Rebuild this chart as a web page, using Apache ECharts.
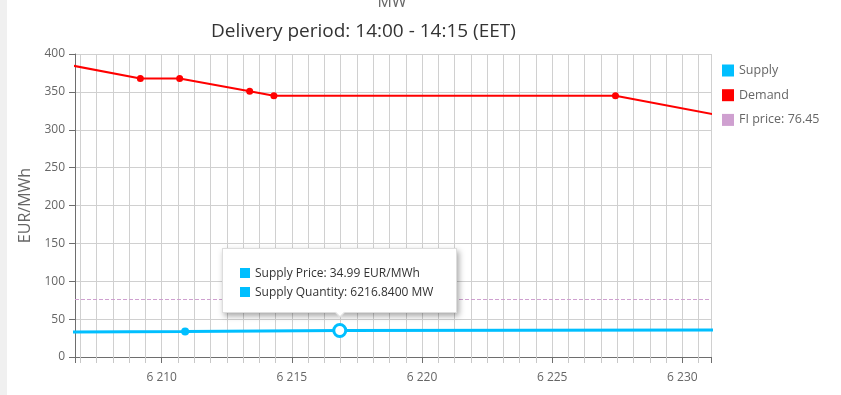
<!DOCTYPE html>
<html>
<head>
<meta charset="utf-8">
<script src="https://cdn.jsdelivr.net/npm/echarts@6/dist/echarts.min.js"></script>
<style>
  html, body { margin: 0; padding: 0; background: #f0f0f0; width: 841px; height: 395px; overflow: hidden; }
  #chart { position: absolute; left: 7px; top: 0; width: 834px; height: 395px; background: #fff; }
</style>
</head>
<body>
<div id="chart"></div>
<script>
// ---- data ----
var titleText = 'Delivery period: 14:00 - 14:15 (EET)';
var xAxisName = 'MW';
var yAxisName = 'EUR/MWh';
var seriesNames = ['Supply', 'Demand', 'FI price: 76.45'];
var fiPrice = 76.45;

var supplyQty   = [6205.0, 6210.9, 6216.84, 6233.0];
var supplyPrice = [32.8,   33.7,   34.99,   35.9];
var hoverIndex = 2; // point shown with tooltip

var demandQty   = [6205.0, 6209.18, 6210.69, 6213.38, 6214.31, 6227.43, 6233.0];
var demandPrice = [395.0,  367.6,   367.6,   350.9,   344.8,   344.8,   308.6];

var xMin = 6206.67, xMax = 6231.1;
var yMin = 0, yMax = 400, yInterval = 50;

// ---- chart ----
var SUPPLY = '#00bfff', DEMAND = '#ff0000', FI = '#cfa0d0';
var FONT = '"Open Sans", "Noto Sans", sans-serif';

function fmtThousands(v) {
  var s = String(Math.round(v));
  return s.replace(/\B(?=(\d{3})+(?!\d))/g, ' ');
}

var supplyData = supplyQty.map(function (q, i) {
  var item = { value: [q, supplyPrice[i]] };
  if (i === hoverIndex) {
    item.symbolSize = 12;
    item.itemStyle = { color: '#fff', borderColor: SUPPLY, borderWidth: 3 };
  }
  return item;
});
var demandData = demandQty.map(function (q, i) { return [q, demandPrice[i]]; });

var chart = echarts.init(document.getElementById('chart'), null, { renderer: 'canvas' });

var option = {
  animation: false,
  backgroundColor: '#fff',
  textStyle: { fontFamily: FONT },
  title: {
    text: titleText,
    left: 199,
    top: 17,
    textStyle: { fontSize: 19, fontWeight: 'normal', color: '#333', fontFamily: FONT }
  },
  graphic: [{
    type: 'text',
    x: 385,
    y: 10,
    silent: true,
    style: { text: xAxisName, fontSize: 16, fill: '#666', fontFamily: FONT, align: 'center', verticalAlign: 'bottom' }
  }],
  legend: {
    orient: 'vertical',
    left: 710,
    top: 59,
    icon: 'rect',
    itemWidth: 12,
    itemHeight: 12,
    itemGap: 11.7,
    textStyle: { color: '#666', fontSize: 12.5, fontFamily: FONT },
    data: seriesNames
  },
  grid: { left: 68, right: 130, top: 54, bottom: 38, containLabel: false },
  tooltip: {
    trigger: 'item',
    triggerOn: 'none',
    alwaysShowContent: true,
    position: 'top',
    transitionDuration: 0,
    backgroundColor: '#fff',
    borderColor: '#ddd',
    borderWidth: 1,
    padding: [14, 23, 11, 17],
    textStyle: { color: '#333', fontSize: 12, fontFamily: FONT },
    extraCssText: 'box-shadow: 2px 3px 6px rgba(0,0,0,0.35); border-radius: 0;',
    formatter: function (p) {
      var mk = '<span style="display:inline-block;width:10px;height:10px;background:' + SUPPLY + ';margin-right:5px;vertical-align:-1px"></span>';
      return '<div style="line-height:19px">' +
        mk + 'Supply Price: ' + p.value[1].toFixed(2) + ' EUR/MWh<br>' +
        mk + 'Supply Quantity: ' + p.value[0].toFixed(4) + ' MW</div>';
    }
  },
  xAxis: {
    type: 'value',
    min: xMin,
    max: xMax,
    splitNumber: 5,
    axisLine: { onZero: false, lineStyle: { color: '#6e6e6e' } },
    axisTick: { show: true, length: 6, lineStyle: { color: '#6e6e6e' } },
    minorTick: { show: true, splitNumber: 8, length: 6, lineStyle: { color: '#c8c8c8' } },
    splitLine: { show: true, lineStyle: { color: '#d0d0d0' } },
    minorSplitLine: { show: true, lineStyle: { color: '#d0d0d0' } },
    axisLabel: {
      color: '#666', fontSize: 12, margin: 15, fontFamily: FONT,
      formatter: function (v) {
        return (Math.abs(v / 5 - Math.round(v / 5)) < 1e-6) ? fmtThousands(v) : '';
      }
    }
  },
  yAxis: {
    type: 'value',
    min: yMin,
    max: yMax,
    interval: yInterval,
    name: yAxisName,
    nameLocation: 'middle',
    nameGap: 38,
    nameTextStyle: { color: '#666', fontSize: 16, fontFamily: FONT },
    axisLine: { show: true, lineStyle: { color: '#6e6e6e' } },
    axisTick: { show: true, length: 6, lineStyle: { color: '#6e6e6e' } },
    splitLine: { show: true, lineStyle: { color: '#d0d0d0' } },
    axisLabel: { color: '#666', fontSize: 12, margin: 10, fontFamily: FONT }
  },
  series: [
    {
      name: seriesNames[0],
      type: 'line',
      data: supplyData,
      color: SUPPLY,
      symbol: 'circle',
      symbolSize: 8,
      showAllSymbol: true,
      clip: true,
      lineStyle: { width: 3, color: SUPPLY },
      itemStyle: { color: SUPPLY },
      z: 4
    },
    {
      name: seriesNames[1],
      type: 'line',
      data: demandData,
      color: DEMAND,
      symbol: 'circle',
      symbolSize: 7,
      showAllSymbol: true,
      clip: true,
      lineStyle: { width: 2, color: DEMAND },
      itemStyle: { color: DEMAND },
      z: 3
    },
    {
      name: seriesNames[2],
      type: 'line',
      data: [],
      color: FI,
      itemStyle: { color: FI },
      lineStyle: { color: FI },
      markLine: {
        silent: true,
        symbol: 'none',
        label: { show: false },
        lineStyle: { color: FI, type: 'dashed', width: 1 },
        data: [{ yAxis: fiPrice }]
      }
    }
  ]
};

chart.setOption(option);
chart.dispatchAction({ type: 'showTip', seriesIndex: 0, dataIndex: hoverIndex });
</script>
</body>
</html>
